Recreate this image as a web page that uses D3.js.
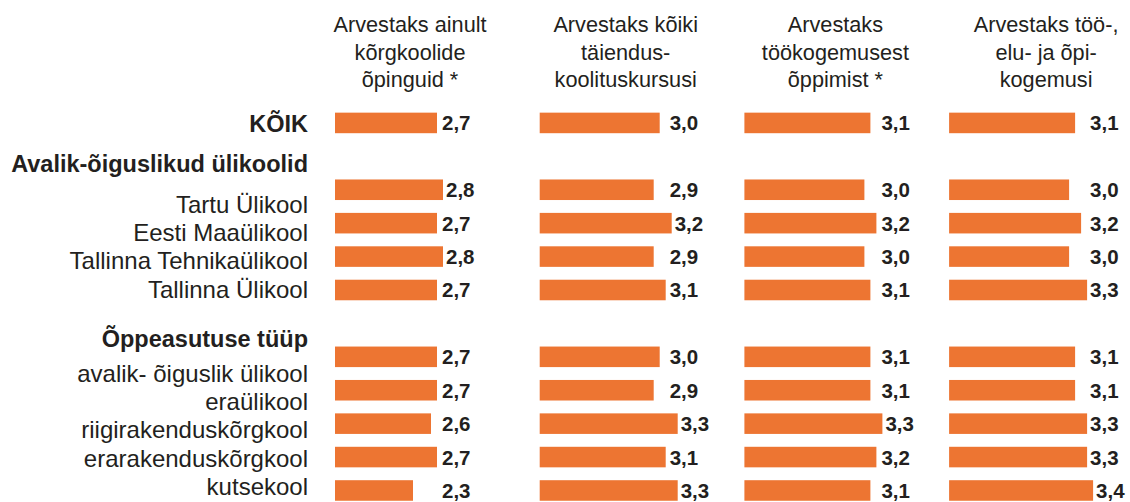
<!DOCTYPE html>
<html>
<head>
<meta charset="utf-8">
<script src="https://cdn.jsdelivr.net/npm/d3@7"></script>
<style>
  body { margin: 0; background: #fff; }
  text { font-family: "Liberation Sans", Arial, sans-serif; fill: #231f20; }
</style>
</head>
<body>
<div id="chart"></div>
<script>
// rows, top to bottom (group headers have no bars)
const rows = ["KÕIK", "Avalik-õiguslikud ülikoolid", "Tartu Ülikool", "Eesti Maaülikool",
    "Tallinna Tehnikaülikool", "Tallinna Ülikool", "Õppeasutuse tüüp",
    "avalik- õiguslik ülikool", "eraülikool", "riigirakenduskõrgkool",
    "erarakenduskõrgkool", "kutsekool"];
const groupHeads = ["Avalik-õiguslikud ülikoolid", "Õppeasutuse tüüp"];
const boldRows = ["KÕIK", "Avalik-õiguslikud ülikoolid", "Õppeasutuse tüüp"];

// panel titles, one array of lines each
const panelTitles = [
    ["Arvestaks ainult", "kõrgkoolide", "õpinguid *"],
    ["Arvestaks kõiki", "täiendus-", "koolituskursusi"],
    ["Arvestaks", "töökogemusest", "õppimist *"],
    ["Arvestaks töö-,", "elu- ja õpi-", "kogemusi"]
];

// values for the bar rows (KÕIK, Tartu ... kutsekool)
const ainultKorgkool = [2.7, 2.8, 2.7, 2.8, 2.7, 2.7, 2.7, 2.6, 2.7, 2.3];
const koikTaiendus = [3.0, 2.9, 3.2, 2.9, 3.1, 3.0, 2.9, 3.3, 3.1, 3.3];
const tooKogemus = [3.1, 3.0, 3.2, 3.0, 3.1, 3.1, 3.1, 3.3, 3.2, 3.1];
const eluKogemus = [3.1, 3.0, 3.2, 3.0, 3.3, 3.1, 3.1, 3.3, 3.3, 3.4];
const series = [ainultKorgkool, koikTaiendus, tooKogemus, eluKogemus];

const width = 1130;
const height = 502;
const barColor = "#ed7532";

// layout tweaks
const titleOffset = [75, 86, 91, 97];
const valueOffset = [107, 130, 137, 141];
const labelGap = [0, 40, 41, 28, 28, 29, 49, 35, 28, 28, 29, 28];

const barRows = rows.filter(r => !groupHeads.includes(r));

const svg = d3.select("#chart").append("svg")
    .attr("width", width)
    .attr("height", height);

// scales
const xPanel = d3.scaleBand()
    .domain(d3.range(series.length))
    .range([335, 335 + 4 * 204.7]);

const xScale = d3.scaleLinear().domain([1, 4]).range([0, 180]);

const yScale = d3.scaleBand()
    .domain(rows)
    .range([106.3, 106.3 + rows.length * 33.4])
    .paddingInner(0.385)
    .paddingOuter(0.19);

// row labels on the left
let yl = 132;
const labelY = rows.map((r, i) => (yl += labelGap[i]));

svg.append("g")
    .selectAll("text")
    .data(rows)
    .join("text")
    .attr("x", 308)
    .attr("y", (d, i) => labelY[i])
    .attr("text-anchor", "end")
    .style("font-size", d => boldRows.includes(d) ? "23.5px" : "24px")
    .style("font-weight", d => boldRows.includes(d) ? "bold" : "normal")
    .text(d => d);

// panels
series.forEach((vals, p) => {
    const x0 = xPanel(p);
    const g = svg.append("g").attr("transform", "translate(" + x0 + ",0)");

    g.append("text")
        .attr("text-anchor", "middle")
        .style("font-size", "21.7px")
        .selectAll("tspan")
        .data(panelTitles[p])
        .join("tspan")
        .attr("x", titleOffset[p])
        .attr("y", (d, i) => 32 + i * 27.5)
        .text(d => d);

    const data = barRows.map((r, i) => ({ row: r, value: vals[i] }));

    g.selectAll("rect")
        .data(data)
        .join("rect")
        .attr("x", 0)
        .attr("y", d => yScale(d.row))
        .attr("width", d => xScale(d.value))
        .attr("height", yScale.bandwidth())
        .attr("fill", barColor);

    g.selectAll(".val")
        .data(data)
        .join("text")
        .attr("class", "val")
        .attr("x", d => Math.max(valueOffset[p], xScale(d.value) + 3))
        .attr("y", d => yScale(d.row) + yScale.bandwidth() / 2 + 7.5)
        .style("font-size", "20.5px")
        .style("font-weight", "bold")
        .text(d => d3.format(".1f")(d.value).replace(".", ","));
});
</script>
</body>
</html>
